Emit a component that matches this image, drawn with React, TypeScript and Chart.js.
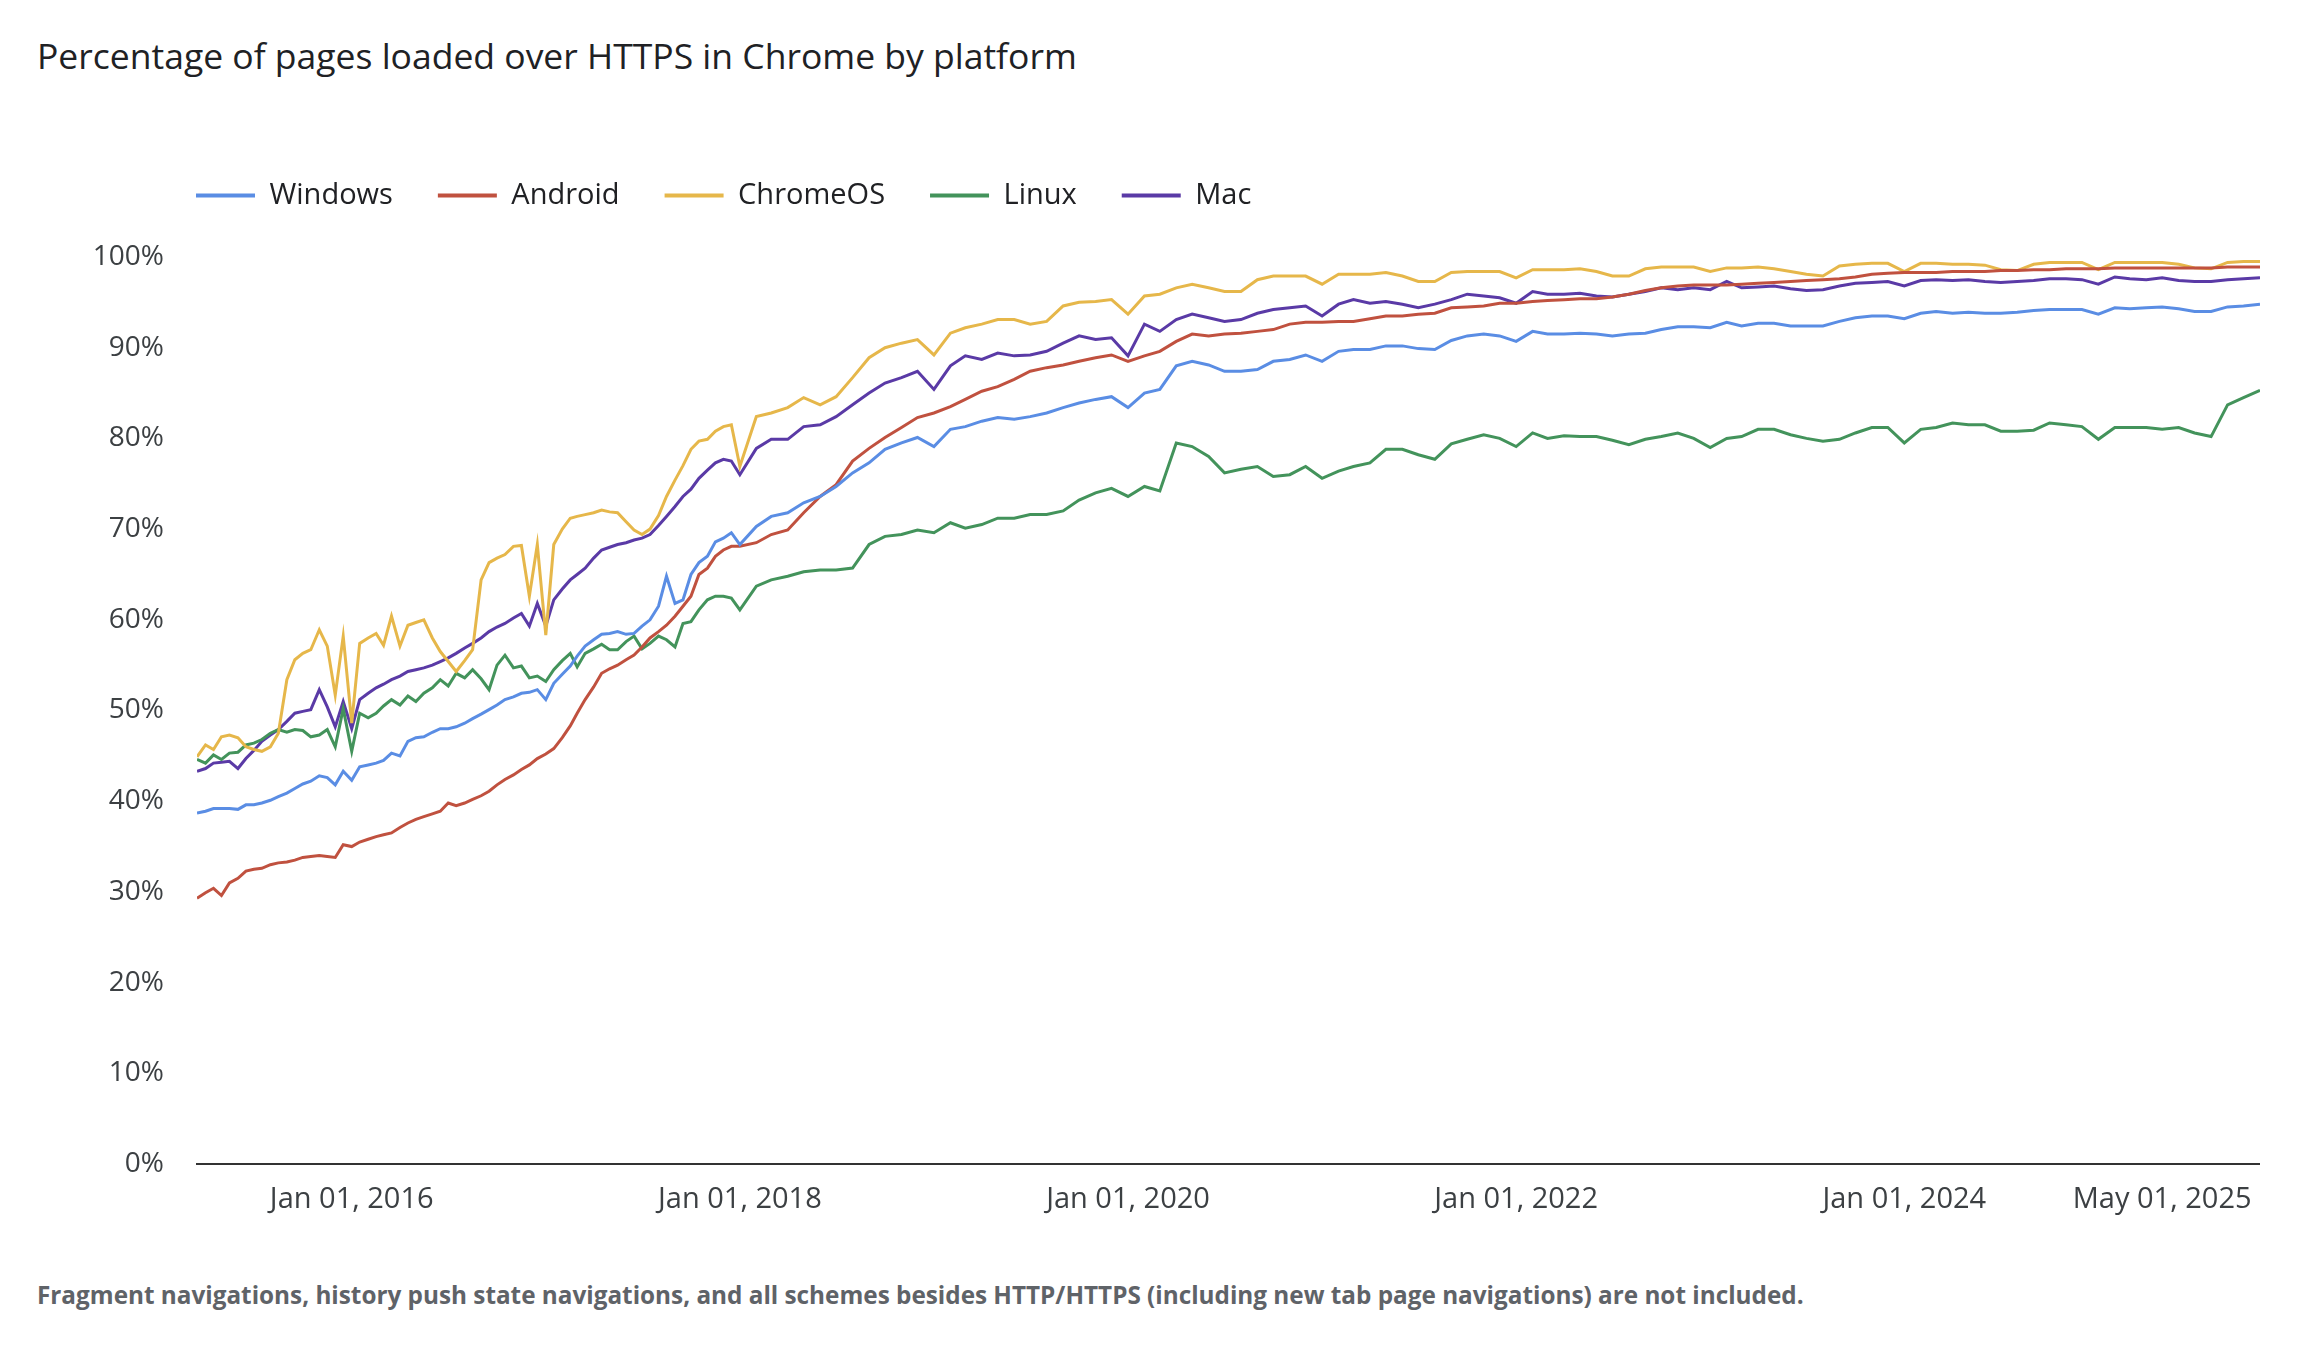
import { useEffect, useRef } from 'react';
import { Chart, registerables } from 'chart.js';

Chart.register(...registerables);

const FONT = "'Open Sans', sans-serif";

// semi-monthly samples through 2017, monthly afterwards
const dates = [
  '2015-03-16', '2015-04-01', '2015-04-16', '2015-05-01', '2015-05-16', '2015-06-01', '2015-06-16',
  '2015-07-01', '2015-07-16', '2015-08-01', '2015-08-16', '2015-09-01', '2015-09-16', '2015-10-01',
  '2015-10-16', '2015-11-01', '2015-11-16', '2015-12-01', '2015-12-16',
  '2016-01-01', '2016-01-16', '2016-02-01', '2016-02-16', '2016-03-01', '2016-03-16', '2016-04-01',
  '2016-04-16', '2016-05-01', '2016-05-16', '2016-06-01', '2016-06-16', '2016-07-01', '2016-07-16',
  '2016-08-01', '2016-08-16', '2016-09-01', '2016-09-16', '2016-10-01', '2016-10-16', '2016-11-01',
  '2016-11-16', '2016-12-01', '2016-12-16',
  '2017-01-01', '2017-01-16', '2017-02-01', '2017-02-16', '2017-03-01', '2017-03-16', '2017-04-01',
  '2017-04-16', '2017-05-01', '2017-05-16', '2017-06-01', '2017-06-16', '2017-07-01', '2017-07-16',
  '2017-08-01', '2017-08-16', '2017-09-01', '2017-09-16', '2017-10-01', '2017-10-16', '2017-11-01',
  '2017-11-16', '2017-12-01', '2017-12-16',
  '2018-01-01', '2018-02-01', '2018-03-01', '2018-04-01', '2018-05-01', '2018-06-01',
  '2018-07-01', '2018-08-01', '2018-09-01', '2018-10-01', '2018-11-01', '2018-12-01',
  '2019-01-01', '2019-02-01', '2019-03-01', '2019-04-01', '2019-05-01', '2019-06-01',
  '2019-07-01', '2019-08-01', '2019-09-01', '2019-10-01', '2019-11-01', '2019-12-01',
  '2020-01-01', '2020-02-01', '2020-03-01', '2020-04-01', '2020-05-01', '2020-06-01',
  '2020-07-01', '2020-08-01', '2020-09-01', '2020-10-01', '2020-11-01', '2020-12-01',
  '2021-01-01', '2021-02-01', '2021-03-01', '2021-04-01', '2021-05-01', '2021-06-01',
  '2021-07-01', '2021-08-01', '2021-09-01', '2021-10-01', '2021-11-01', '2021-12-01',
  '2022-01-01', '2022-02-01', '2022-03-01', '2022-04-01', '2022-05-01', '2022-06-01',
  '2022-07-01', '2022-08-01', '2022-09-01', '2022-10-01', '2022-11-01', '2022-12-01',
  '2023-01-01', '2023-02-01', '2023-03-01', '2023-04-01', '2023-05-01', '2023-06-01',
  '2023-07-01', '2023-08-01', '2023-09-01', '2023-10-01', '2023-11-01', '2023-12-01',
  '2024-01-01', '2024-02-01', '2024-03-01', '2024-04-01', '2024-05-01', '2024-06-01',
  '2024-07-01', '2024-08-01', '2024-09-01', '2024-10-01', '2024-11-01', '2024-12-01',
  '2025-01-01', '2025-02-01', '2025-03-01', '2025-04-01', '2025-05-01', '2025-06-01',
  '2025-07-01', '2025-08-01', '2025-09-01', '2025-10-01', '2025-11-01',
];

const windows = [
  38.7, 38.9, 39.2, 39.2, 39.2, 39.1, 39.6, 39.6, 39.8, 40.1,
  40.5, 40.9, 41.4, 41.9, 42.2, 42.8, 42.6, 41.8, 43.3, 42.3,
  43.8, 44.0, 44.2, 44.5, 45.3, 45.0, 46.6, 47.0, 47.1, 47.6,
  48.0, 48.0, 48.2, 48.6, 49.1, 49.6, 50.1, 50.6, 51.2, 51.5,
  51.9, 52.0, 52.3, 51.2, 53.0, 54.0, 54.9, 56.0, 57.1, 57.8,
  58.4, 58.5, 58.7, 58.4, 58.5, 59.3, 60.0, 61.5, 64.8, 61.8,
  62.2, 65.0, 66.3, 67.0, 68.6, 69.0, 69.6,
  68.3, 70.3, 71.4, 71.8, 72.9, 73.6, 74.7, 76.2, 77.3, 78.8, 79.5, 80.1,
  79.1, 81.0, 81.3, 81.9, 82.3, 82.1, 82.4, 82.8, 83.4, 83.9, 84.3, 84.6,
  83.4, 85.0, 85.4, 88.0, 88.5, 88.1, 87.4, 87.4, 87.6, 88.5, 88.7, 89.2,
  88.5, 89.6, 89.8, 89.8, 90.2, 90.2, 89.9, 89.8, 90.8, 91.3, 91.5, 91.3,
  90.7, 91.8, 91.5, 91.5, 91.6, 91.5, 91.3, 91.5, 91.6, 92.0, 92.3, 92.3,
  92.2, 92.8, 92.4, 92.7, 92.7, 92.4, 92.4, 92.4, 92.9, 93.3, 93.5, 93.5,
  93.2, 93.8, 94.0, 93.8, 93.9, 93.8, 93.8, 93.9, 94.1, 94.2, 94.2, 94.2,
  93.7, 94.4, 94.3, 94.4, 94.5, 94.3, 94.0, 94.0, 94.5, 94.6, 94.8,
];

const android = [
  29.3, 29.9, 30.4, 29.6, 31.0, 31.5, 32.3, 32.5, 32.6, 33.0,
  33.2, 33.3, 33.5, 33.8, 33.9, 34.0, 33.9, 33.8, 35.2, 35.0,
  35.5, 35.8, 36.1, 36.3, 36.5, 37.1, 37.6, 38.0, 38.3, 38.6,
  38.9, 39.8, 39.5, 39.8, 40.2, 40.6, 41.1, 41.8, 42.4, 42.9,
  43.5, 44.0, 44.7, 45.2, 45.8, 47.0, 48.3, 49.7, 51.2, 52.6,
  54.1, 54.6, 55.0, 55.6, 56.1, 57.0, 58.0, 58.7, 59.4, 60.4,
  61.5, 62.6, 65.0, 65.7, 67.0, 67.7, 68.1,
  68.1, 68.5, 69.4, 69.9, 71.8, 73.6, 74.9, 77.5, 78.9, 80.1, 81.2, 82.3,
  82.8, 83.5, 84.3, 85.2, 85.7, 86.5, 87.4, 87.8, 88.1, 88.5, 88.9, 89.2,
  88.5, 89.1, 89.6, 90.7, 91.5, 91.3, 91.5, 91.6, 91.8, 92.0, 92.6, 92.8,
  92.8, 92.9, 92.9, 93.2, 93.5, 93.5, 93.7, 93.8, 94.4, 94.5, 94.6, 94.9,
  94.9, 95.1, 95.2, 95.3, 95.4, 95.4, 95.6, 95.9, 96.3, 96.6, 96.8, 96.9,
  96.9, 96.9, 97.0, 97.1, 97.2, 97.3, 97.4, 97.5, 97.6, 97.8, 98.1, 98.2,
  98.3, 98.3, 98.3, 98.4, 98.4, 98.4, 98.5, 98.5, 98.6, 98.6, 98.7, 98.7,
  98.7, 98.8, 98.8, 98.8, 98.8, 98.8, 98.8, 98.8, 98.9, 98.9, 98.9,
];

const chromeOS = [
  44.9, 46.2, 45.7, 47.1, 47.3, 47.0, 46.0, 45.7, 45.5, 46.0,
  47.5, 53.4, 55.6, 56.3, 56.7, 58.9, 57.1, 51.7, 58.2, 48.6,
  57.4, 58.0, 58.5, 57.2, 60.4, 57.1, 59.4, 59.7, 60.0, 58.0,
  56.5, 55.4, 54.3, 55.5, 56.7, 64.4, 66.3, 66.8, 67.2, 68.1,
  68.2, 62.6, 68.3, 58.3, 68.3, 70.0, 71.2, 71.4, 71.6, 71.8,
  72.1, 71.9, 71.8, 70.8, 69.9, 69.4, 70.0, 71.5, 73.6, 75.4,
  77.0, 78.8, 79.7, 79.9, 80.8, 81.3, 81.5,
  76.9, 82.4, 82.8, 83.4, 84.5, 83.7, 84.6, 86.7, 88.9, 90.0, 90.5, 90.9,
  89.2, 91.6, 92.2, 92.6, 93.1, 93.1, 92.6, 92.9, 94.6, 95.0, 95.1, 95.3,
  93.7, 95.7, 95.9, 96.6, 97.0, 96.6, 96.2, 96.2, 97.5, 97.9, 97.9, 97.9,
  97.0, 98.1, 98.1, 98.1, 98.3, 97.9, 97.3, 97.3, 98.3, 98.4, 98.4, 98.4,
  97.7, 98.6, 98.6, 98.6, 98.7, 98.4, 97.9, 97.9, 98.7, 98.9, 98.9, 98.9,
  98.4, 98.8, 98.8, 98.9, 98.7, 98.4, 98.1, 97.9, 99.0, 99.2, 99.3, 99.3,
  98.4, 99.3, 99.3, 99.2, 99.2, 99.1, 98.6, 98.5, 99.2, 99.4, 99.4, 99.4,
  98.6, 99.4, 99.4, 99.4, 99.4, 99.2, 98.8, 98.7, 99.4, 99.5, 99.5,
];

const linux = [
  44.6, 44.2, 45.1, 44.6, 45.3, 45.4, 46.2, 46.4, 46.8, 47.5,
  47.9, 47.6, 47.9, 47.8, 47.1, 47.3, 47.9, 46.0, 50.2, 45.5,
  49.7, 49.2, 49.7, 50.5, 51.2, 50.6, 51.6, 51.0, 51.9, 52.5,
  53.4, 52.7, 54.1, 53.6, 54.5, 53.5, 52.3, 55.0, 56.1, 54.7,
  54.9, 53.6, 53.8, 53.2, 54.5, 55.5, 56.3, 54.8, 56.3, 56.8,
  57.3, 56.7, 56.7, 57.6, 58.2, 56.8, 57.4, 58.2, 57.8, 57.0,
  59.6, 59.8, 61.1, 62.2, 62.6, 62.6, 62.4,
  61.1, 63.7, 64.4, 64.8, 65.3, 65.5, 65.5, 65.7, 68.3, 69.2, 69.4, 69.9,
  69.6, 70.7, 70.1, 70.5, 71.2, 71.2, 71.6, 71.6, 72.0, 73.2, 74.0, 74.5,
  73.6, 74.7, 74.2, 79.5, 79.1, 78.0, 76.2, 76.6, 76.9, 75.8, 76.0, 76.9,
  75.6, 76.4, 76.9, 77.3, 78.8, 78.8, 78.2, 77.7, 79.4, 79.9, 80.4, 80.0,
  79.1, 80.6, 80.0, 80.3, 80.2, 80.2, 79.8, 79.3, 79.9, 80.2, 80.6, 80.0,
  79.0, 80.0, 80.2, 81.0, 81.0, 80.4, 80.0, 79.7, 79.9, 80.6, 81.2, 81.2,
  79.5, 81.0, 81.2, 81.7, 81.5, 81.5, 80.8, 80.8, 80.9, 81.7, 81.5, 81.3,
  79.9, 81.2, 81.2, 81.2, 81.0, 81.2, 80.6, 80.2, 83.7, 84.5, 85.3,
];

const mac = [
  43.3, 43.6, 44.2, 44.3, 44.4, 43.6, 44.7, 45.6, 46.6, 47.3,
  47.9, 48.8, 49.7, 49.9, 50.1, 52.3, 50.4, 48.2, 51.0, 48.0,
  51.2, 51.9, 52.5, 52.9, 53.4, 53.8, 54.3, 54.5, 54.7, 55.0,
  55.4, 55.8, 56.3, 56.9, 57.4, 58.0, 58.7, 59.2, 59.6, 60.2,
  60.7, 59.3, 61.8, 59.3, 62.2, 63.4, 64.4, 65.0, 65.7, 66.8,
  67.7, 68.0, 68.3, 68.5, 68.8, 69.0, 69.4, 70.4, 71.4, 72.5,
  73.6, 74.4, 75.6, 76.5, 77.3, 77.7, 77.5,
  76.0, 78.9, 79.9, 79.9, 81.3, 81.5, 82.4, 83.7, 85.0, 86.1, 86.7, 87.4,
  85.4, 88.0, 89.1, 88.7, 89.4, 89.1, 89.2, 89.6, 90.5, 91.3, 90.9, 91.1,
  89.1, 92.6, 91.8, 93.1, 93.7, 93.3, 92.9, 93.1, 93.8, 94.2, 94.4, 94.6,
  93.5, 94.8, 95.3, 94.9, 95.1, 94.8, 94.4, 94.8, 95.3, 95.9, 95.7, 95.5,
  94.9, 96.2, 95.9, 95.9, 96.0, 95.7, 95.6, 95.9, 96.2, 96.6, 96.4, 96.6,
  96.4, 97.3, 96.6, 96.7, 96.8, 96.5, 96.3, 96.4, 96.8, 97.1, 97.2, 97.3,
  96.8, 97.4, 97.5, 97.4, 97.5, 97.3, 97.2, 97.3, 97.4, 97.6, 97.6, 97.5,
  97.0, 97.8, 97.6, 97.5, 97.7, 97.4, 97.3, 97.3, 97.5, 97.6, 97.7,
];

const seriesLabels = ['Windows', 'Android', 'ChromeOS', 'Linux', 'Mac'];
const seriesColors = ['#5a8de4', '#c0513f', '#e6b74a', '#43935b', '#5a3aa6'];
const seriesValues = [windows, android, chromeOS, linux, mac];

const tickDates = ['2016-01-01', '2018-01-01', '2020-01-01', '2022-01-01', '2024-01-01', '2025-05-01'];
const tickLabels = ['Jan 01, 2016', 'Jan 01, 2018', 'Jan 01, 2020', 'Jan 01, 2022', 'Jan 01, 2024', 'May 01, 2025'];

// date string -> fractional year for the linear x axis
function toYear(d: string) {
  const [y, m, day] = d.split('-').map(Number);
  const start = Date.UTC(y, 0, 1);
  const end = Date.UTC(y + 1, 0, 1);
  return y + (Date.UTC(y, m - 1, day) - start) / (end - start);
}

// moves the legend row so it starts at the plot's left edge, independent of the y axis width
const legendShift = {
  id: 'legendShift',
  afterLayout(chart: any) {
    const lg = chart.legend;
    if (!lg) return;
    const dx = 84;
    const dy = -37;
    lg.left += dx;
    lg.right += dx;
    lg.top += dy;
    lg.bottom += dy;
  },
};

export default function App() {
  const canvasRef = useRef<HTMLCanvasElement>(null);

  useEffect(() => {
    if (!canvasRef.current) return;
    const xs = dates.map(toYear);
    const tickValues = tickDates.map(toYear);

    const chart = new Chart(canvasRef.current, {
      type: 'line',
      data: {
        datasets: seriesLabels.map((label, i) => ({
          label,
          data: seriesValues[i].map((v, j) => ({ x: xs[j], y: v })),
          borderColor: seriesColors[i],
          backgroundColor: seriesColors[i],
          borderWidth: 3,
          pointRadius: 0,
          tension: 0,
        })),
      },
      options: {
        responsive: false,
        animation: false,
        layout: { padding: { left: 0, top: 73, right: 0, bottom: 0 } },
        plugins: {
          legend: {
            position: 'top',
            align: 'start',
            labels: {
              boxWidth: 59,
              boxHeight: 4,
              padding: 45,
              color: '#202124',
              font: { family: FONT, size: 29 },
              generateLabels: (c: Chart) =>
                Chart.defaults.plugins.legend.labels.generateLabels(c).map((l) => ({ ...l, lineWidth: 0 })),
            },
          },
          tooltip: { enabled: false },
        },
        scales: {
          x: {
            type: 'linear',
            min: xs[0],
            max: xs[xs.length - 1],
            grid: { display: false, drawTicks: false },
            border: { display: true, color: '#333333', width: 2 },
            afterBuildTicks: (s: any) => {
              s.ticks = tickValues.map((value) => ({ value }));
            },
            afterFit: (s: any) => {
              s.height = 76;
              s.paddingLeft = 0;
              s.paddingRight = 0;
            },
            ticks: {
              autoSkip: false,
              maxRotation: 0,
              padding: 18,
              color: '#3c4043',
              font: { family: FONT, size: 29 },
              callback: (v: any) => {
                const i = tickValues.findIndex((t) => Math.abs(t - Number(v)) < 1e-6);
                return i >= 0 ? tickLabels[i] : '';
              },
            },
          },
          y: {
            min: 0,
            max: 100,
            grid: { display: false, drawTicks: false },
            border: { display: false },
            afterFit: (s: any) => {
              s.width = 130;
            },
            ticks: {
              stepSize: 10,
              padding: 33,
              color: '#3c4043',
              font: { family: FONT, size: 28 },
              callback: (v: any) => `${v}%`,
            },
          },
        },
      },
      plugins: [legendShift],
    });

    return () => chart.destroy();
  }, []);

  return (
    <div style={{ position: 'fixed', left: 0, top: 0, width: 2298, height: 1346, background: '#ffffff', overflow: 'hidden' }}>
      <div
        style={{
          position: 'absolute',
          left: 37,
          top: 38,
          fontFamily: FONT,
          fontSize: 35.5,
          lineHeight: 1,
          color: '#202124',
          whiteSpace: 'nowrap',
        }}
      >
        Percentage of pages loaded over HTTPS in Chrome by platform
      </div>
      <canvas
        ref={canvasRef}
        width={2193}
        height={1140}
        style={{ position: 'absolute', left: 67, top: 100, width: 2193, height: 1140 }}
      />
      <div
        style={{
          position: 'absolute',
          left: 37,
          top: 1283,
          fontFamily: FONT,
          fontSize: 24.3,
          fontWeight: 700,
          lineHeight: 1,
          color: '#5f6368',
          whiteSpace: 'nowrap',
        }}
      >
        Fragment navigations, history push state navigations, and all schemes besides HTTP/HTTPS (including new tab page navigations) are not included.
      </div>
    </div>
  );
}
